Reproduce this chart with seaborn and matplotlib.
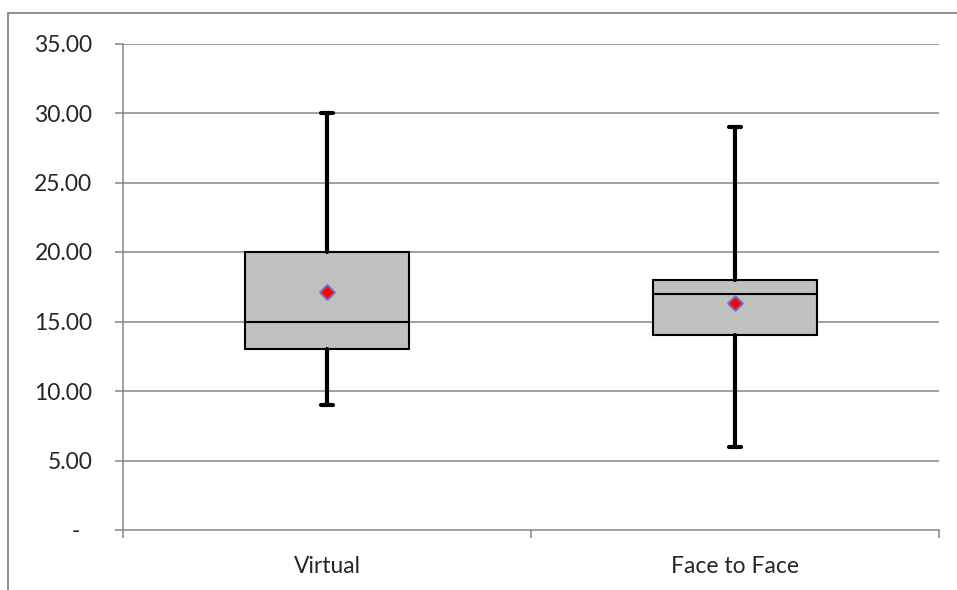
import matplotlib
matplotlib.use("Agg")
import matplotlib.pyplot as plt
import seaborn as sns
import pandas as pd
from matplotlib.patches import Rectangle
from matplotlib.ticker import FixedLocator

categories = ["Virtual", "Face to Face"]
mins = [9, 6]
q1s = [13, 14]
medians = [15, 17]
q3s = [20, 18]
maxs = [30, 29]
means = [17.1, 16.3]
yticks = [0, 5, 10, 15, 20, 25, 30, 35]
ytick_labels = ["-  ", "5.00", "10.00", "15.00", "20.00", "25.00", "30.00", "35.00"]

sns.set_theme(style="white")
plt.rcParams["font.family"] = ["Lato", "DejaVu Sans"]

fig = plt.figure(figsize=(9.57, 5.90), dpi=100)
ax = fig.add_axes([123/957, 1 - 530/590, (939 - 123)/957, (530 - 43.5)/590])

grid_c = "#868686"
for y in yticks[1:]:
    ax.axhline(y, color=grid_c, lw=1.1, zorder=0)

stats = []
for i, c in enumerate(categories):
    stats.append(dict(label=c, whislo=mins[i], q1=q1s[i], med=medians[i],
                      q3=q3s[i], whishi=maxs[i], fliers=[]))
pos = list(range(len(categories)))
ax.bxp(stats, positions=pos, widths=0.4, capwidths=0.03, patch_artist=True,
       showfliers=False,
       boxprops=dict(facecolor="#C0C0C0", edgecolor="black", linewidth=1.5),
       medianprops=dict(color="black", linewidth=1.5),
       whiskerprops=dict(color="black", linewidth=3),
       capprops=dict(color="black", linewidth=3), zorder=2)

df = pd.DataFrame({"x": pos, "mean": means})
sns.scatterplot(data=df, x="x", y="mean", marker="D", s=55, color="#FF0000",
                edgecolor="#7b68b5", linewidth=1.5, ax=ax, zorder=4, legend=False)

ax.set_xlim(-0.5, 1.5)
ax.set_ylim(0, 35)
ax.set_xticks(pos)
ax.set_xticklabels(categories, fontsize=16.5)
ax.xaxis.set_minor_locator(FixedLocator([-0.5, 0.5, 1.5]))
ax.tick_params(axis="x", which="major", length=0, pad=19)
ax.tick_params(axis="x", which="minor", length=6, width=1.1, color=grid_c, direction="out", bottom=True)
ax.set_yticks(yticks)
ax.set_yticklabels(ytick_labels, fontsize=16.5)
ax.tick_params(axis="y", length=6, width=1.1, color=grid_c, direction="out", left=True, pad=16)
ax.set_xlabel("")
ax.set_ylabel("")
for s in ["top", "right"]:
    ax.spines[s].set_visible(False)
for s in ["left", "bottom"]:
    ax.spines[s].set_color(grid_c)
    ax.spines[s].set_linewidth(1.1)
    ax.spines[s].set_zorder(1)

fig.patches.append(Rectangle((8/957, -0.05), 1.2, 1 - 13/590 + 0.05,
                             transform=fig.transFigure, fill=False,
                             edgecolor=grid_c, linewidth=1.3))

fig.savefig("out.png", dpi=100)
